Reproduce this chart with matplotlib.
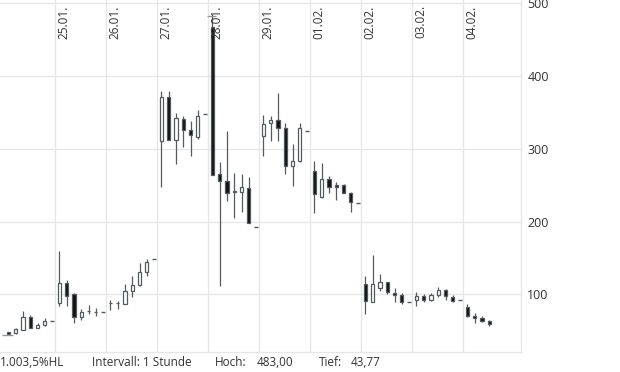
import matplotlib
matplotlib.use('Agg')
import matplotlib.pyplot as plt
from matplotlib.patches import Rectangle
from matplotlib.transforms import blended_transform_factory

# hourly candles, one list per trading day (24.01. partial ... 04.02.)
day_labels = ['24.01.', '25.01.', '26.01.', '27.01.', '28.01.', '29.01.',
              '01.02.', '02.02.', '03.02.', '04.02.']

opens = [
    [47.7, 47.3, 51.4, 69.3, 54.2, 58.3],
    [88.6, 116.1, 100.0, 69.3, 76.6, 75.6],
    [88.0, 88.6, 87.2, 105.1, 112.8, 131.2],
    [310.1, 371.1, 311.5, 340.4, 325.3, 315.6],
    [467.8, 265.1, 255.1, 242.0, 240.8, 245.5],
    [317.0, 334.9, 339.0, 328.0, 275.7, 283.4],
    [268.8, 233.1, 257.8, 249.6, 249.6, 239.9],
    [114.7, 89.4, 109.2, 117.5, 102.3, 99.6],
    [92.7, 98.2, 92.7, 99.6, 106.5, 96.8],
    [83.1, 70.7, 67.9, 63.8],
]
highs = [
    [47.7, 53.2, 76.6, 71.1, 61.1, 67.0],
    [159.2, 119.3, 102.3, 79.4, 85.8, 81.1],
    [92.7, 90.8, 114.2, 124.8, 143.6, 149.1],
    [379.4, 379.4, 348.7, 344.5, 337.7, 352.8],
    [483.0, 281.6, 324.3, 266.1, 265.5, 261.4],
    [346.7, 344.5, 376.6, 334.9, 306.0, 334.9],
    [283.0, 279.9, 262.0, 253.7, 251.0, 240.8],
    [125.2, 153.7, 127.5, 117.5, 109.2, 102.3],
    [103.7, 101.0, 102.3, 109.6, 107.8, 99.6],
    [87.2, 74.8, 70.7, 65.2],
]
lows = [
    [43.77, 45.9, 51.4, 54.2, 54.2, 56.9],
    [83.9, 83.9, 60.5, 64.2, 73.4, 70.1],
    [78.4, 79.4, 87.2, 96.3, 111.4, 125.2],
    [247.7, 311.5, 279.3, 302.7, 289.5, 312.9],
    [263.8, 111.0, 228.4, 204.2, 213.3, 197.3],
    [290.3, 311.0, 311.0, 264.7, 249.0, 282.1],
    [211.1, 231.7, 239.9, 229.0, 239.9, 213.3],
    [73.4, 89.4, 105.1, 101.0, 89.4, 86.7],
    [84.4, 90.0, 91.3, 96.8, 92.7, 90.0],
    [69.3, 61.1, 62.4, 56.9],
]
closes = [
    [45.0, 51.8, 69.3, 54.2, 58.3, 63.8],
    [116.1, 98.2, 69.3, 76.2, 76.6, 75.6],
    [88.0, 88.6, 105.1, 113.3, 131.2, 145.0],
    [371.1, 311.5, 341.8, 325.3, 318.4, 344.5],
    [263.8, 255.1, 238.6, 240.8, 247.2, 197.3],
    [333.5, 339.0, 328.0, 275.7, 283.0, 328.0],
    [237.2, 258.3, 246.8, 247.2, 239.9, 226.2],
    [90.8, 114.7, 117.5, 103.7, 99.6, 90.0],
    [98.2, 92.7, 99.6, 106.5, 98.2, 91.3],
    [70.7, 67.9, 63.8, 59.7],
]
# single end-of-day quote after the last candle
day_end = [63.8, 76.2, 147.8, 347.3, 192.6, 323.9, 224.8, 90.0, 92.2, None]

y_ticks = [100, 200, 300, 400, 500]
period_high = 483.00
period_low = 43.77
footer = ['1.003,5%HL', 'Intervall: 1 Stunde', 'Hoch:', '483,00', 'Tief:', '43,77']

plt.rcParams['font.family'] = ['Open Sans', 'DejaVu Sans']

W, H = 620, 372
fig = plt.figure(figsize=(W / 100, H / 100), dpi=100)
ax = fig.add_axes([0, 20 / H, 521 / W, 352 / H])

slots = 7
body_w = 0.45
wick_col = '#555a5e'
grid_col = '#e6e6e6'
text_col = '#333333'

hi_x = lo_x = None
for d in range(len(opens)):
    for i in range(len(opens[d])):
        x = slots * d + i + 0.6
        o, h, l, c = opens[d][i], highs[d][i], lows[d][i], closes[d][i]
        ax.vlines(x, l, h, color=wick_col, lw=0.9, zorder=3)
        face = 'white' if c >= o else '#111111'
        ax.add_patch(Rectangle((x - body_w / 2, min(o, c)), body_w, abs(c - o),
                               facecolor=face, edgecolor=wick_col, lw=0.9, zorder=4))
        if h == period_high:
            hi_x = x
        if l == period_low:
            lo_x = x
    if day_end[d] is not None:
        x = slots * d + 6 + 0.6
        ax.hlines(day_end[d], x - 0.22, x + 0.22, color=wick_col, lw=1.0, zorder=3)

# period high / low markers
ax.hlines(period_high, hi_x - 0.7, hi_x + 0.5, color='#999999', lw=1.0, zorder=5)
ax.hlines(period_low, lo_x - 0.85, lo_x + 0.65, color='#999999', lw=1.0, zorder=5)

ax.set_xlim(-0.55, 70.96)
ax.set_ylim(20.6, 504.6)

day_pos = [slots * d for d in range(1, len(day_labels))]
ax.set_xticks(day_pos)
ax.set_xticklabels([])
ax.set_yticks(y_ticks)
ax.grid(True, color=grid_col, lw=1.0)
ax.set_axisbelow(True)
ax.tick_params(length=0, labelsize=9, labelcolor=text_col, pad=4.5)
ax.yaxis.tick_right()
for s in ['top', 'left']:
    ax.spines[s].set_visible(False)
for s in ['bottom', 'right']:
    ax.spines[s].set_color(grid_col)
    ax.spines[s].set_linewidth(1.0)

trans = blended_transform_factory(ax.transData, ax.transAxes)
for p, lab in zip(day_pos, day_labels[1:]):
    ax.text(p + 0.35, 0.985, lab, transform=trans, rotation=90, ha='left', va='top',
            fontsize=8.5, color=text_col, zorder=6)

fy = 10 / H
for xp, txt in zip([0, 92, 215, 257, 319, 351], footer):
    fig.text(xp / W, fy, txt, ha='left', va='center', fontsize=8.5, color=text_col)

fig.savefig('out.png', dpi=100)
